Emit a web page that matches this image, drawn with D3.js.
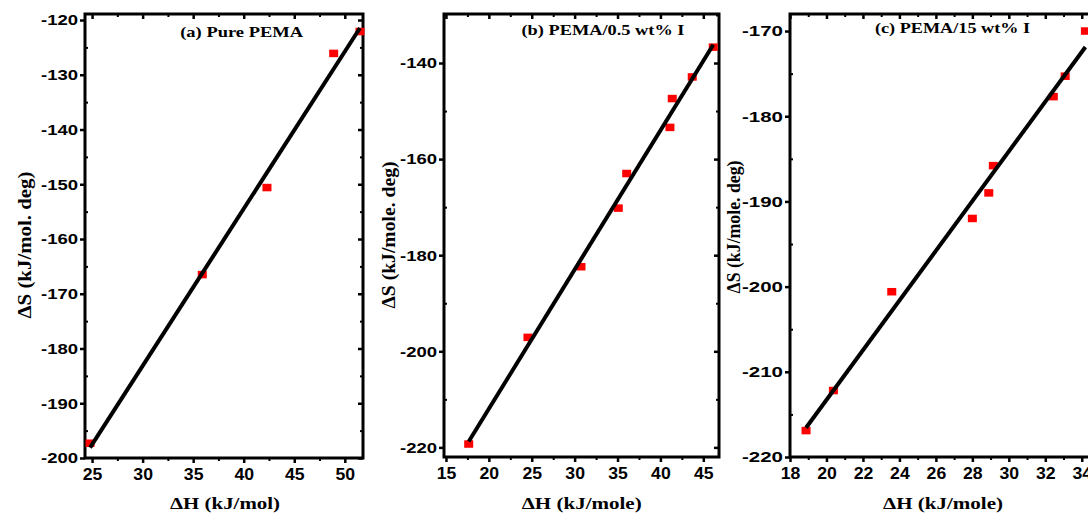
<!DOCTYPE html>
<html><head><meta charset="utf-8">
<script src="https://cdn.jsdelivr.net/npm/d3@7"></script>
<style>body{margin:0;background:#fff} svg{display:block}</style>
</head><body>
<svg id="chart" width="1088" height="515"></svg>
<script>
const titles = ["(a) Pure PEMA", "(b) PEMA/0.5 wt% I", "(c) PEMA/15 wt% I"];
const xLabels = ["\u0394H (kJ/mol)", "\u0394H (kJ/mole)", "\u0394H (kJ/mole)"];
const yLabels = ["\u0394S (kJ/mol. deg)", "\u0394S (kJ/mole. deg)", "\u0394S (kJ/mole. deg)"];
const aH = [24.8, 35.9, 42.3, 48.9, 51.5];
const aS = [-197.3, -166.5, -150.6, -126.1, -122.1];
const bH = [17.65, 24.56, 30.74, 35.09, 36.07, 41.11, 41.38, 43.71, 46.16];
const bS = [-219.3, -197.1, -182.4, -170.2, -163.0, -153.4, -147.4, -142.9, -136.7];
const cH = [18.88, 20.38, 23.58, 28.0, 28.9, 29.15, 32.44, 33.09, 34.2];
const cS = [-216.9, -212.2, -200.6, -192.0, -189.0, -185.8, -177.7, -175.3, -170.0];
const aXTicks = [25, 30, 35, 40, 45, 50];
const aYTicks = [-200, -190, -180, -170, -160, -150, -140, -130, -120];
const bXTicks = [15, 20, 25, 30, 35, 40, 45];
const bYTicks = [-220, -200, -180, -160, -140];
const cXTicks = [18, 20, 22, 24, 26, 28, 30, 32, 34];
const cYTicks = [-220, -210, -200, -190, -180, -170];

const panels = [
  {H: aH, S: aS, xd: [24.3, 51.8], xr: [85, 363], yd: [-200, -118.9], yr: [458, 14],
   xt: aXTicks, yt: aYTicks, xm: 2.5, ym: 5, title: titles[0], tx: 241.7, ty: 37, tw: 123,
   xl: xLabels[0], xlx: 225, xlw: 110, yl: yLabels[0], ylx: 31, yly: 245, ylw: 147, ytw: 37},
  {H: bH, S: bS, xd: [14.77, 46.83], xr: [444, 719], yd: [-222, -129.8], yr: [457, 14],
   xt: bXTicks, yt: bYTicks, xm: 2.5, ym: 10, title: titles[1], tx: 603, ty: 35, tw: 163,
   xl: xLabels[1], xlx: 581.7, xlw: 120, yl: yLabels[1], ylx: 395, yly: 235, ylw: 147, ytw: 37},
  {H: cH, S: cS, xd: [18, 35], xr: [790, 1100], yd: [-220, -168], yr: [457, 14],
   xt: cXTicks, yt: cYTicks, xm: 1, ym: 5, title: titles[2], tx: 952.5, ty: 33, tw: 155,
   xl: xLabels[2], xlx: 943, xlw: 120, yl: yLabels[2], ylx: 740, yly: 227, ylw: 133, ytw: 41}
];

const svg = d3.select("#chart");
const SANS = "'Liberation Sans', Arial, sans-serif";
const SERIF = "'Liberation Serif', 'Times New Roman', serif";
const fmt = d => String(d);

function minorVals(d, step, majors) {
  const lo = Math.min(d[0], d[1]), hi = Math.max(d[0], d[1]);
  return d3.range(Math.ceil(lo / step) * step, hi + 1e-9, step)
    .filter(v => !majors.some(m => Math.abs(m - v) < 1e-6));
}

function styleAxis(g, w) {
  g.select(".domain").remove();
  g.selectAll(".tick line").attr("stroke", "#000").attr("stroke-width", w);
}

panels.forEach(p => {
  const x = d3.scaleLinear().domain(p.xd).range(p.xr);
  const y = d3.scaleLinear().domain(p.yd).range(p.yr);
  const g = svg.append("g");
  const [x0, x1] = p.xr, [y1, y0] = p.yr;
  const xmin = minorVals(p.xd, p.xm, p.xt), ymin = minorVals(p.yd, p.ym, p.yt);

  // bottom axis (labels + outward major ticks)
  const gb = g.append("g").attr("transform", `translate(0,${y1})`)
    .call(d3.axisBottom(x).tickValues(p.xt).tickSize(5).tickPadding(6).tickFormat(fmt));
  styleAxis(gb, 2.5);
  gb.selectAll("text").attr("font-family", SANS).attr("font-weight", "bold")
    .attr("font-size", 16).attr("fill", "#000")
    .attr("textLength", d => String(d).length * 9.8).attr("lengthAdjust", "spacingAndGlyphs");
  const gbm = g.append("g").attr("transform", `translate(0,${y1})`)
    .call(d3.axisBottom(x).tickValues(xmin).tickSize(3).tickFormat(""));
  styleAxis(gbm, 2);

  // left axis
  const gl = g.append("g").attr("transform", `translate(${x0},0)`)
    .call(d3.axisLeft(y).tickValues(p.yt).tickSize(5).tickPadding(2).tickFormat(fmt));
  styleAxis(gl, 2.5);
  gl.selectAll("text").attr("font-family", SANS).attr("font-weight", "bold")
    .attr("font-size", 15).attr("fill", "#000")
    .attr("textLength", p.ytw).attr("lengthAdjust", "spacingAndGlyphs");
  const glm = g.append("g").attr("transform", `translate(${x0},0)`)
    .call(d3.axisLeft(y).tickValues(ymin).tickSize(-3).tickFormat(""));
  styleAxis(glm, 2);

  // top axis (inward)
  const gt = g.append("g").attr("transform", `translate(0,${y0})`)
    .call(d3.axisTop(x).tickValues(p.xt).tickSize(-5).tickFormat(""));
  styleAxis(gt, 2.5);
  const gtm = g.append("g").attr("transform", `translate(0,${y0})`)
    .call(d3.axisTop(x).tickValues(xmin).tickSize(-3).tickFormat(""));
  styleAxis(gtm, 2);

  // right axis (inward)
  const gr = g.append("g").attr("transform", `translate(${x1},0)`)
    .call(d3.axisRight(y).tickValues(p.yt).tickSize(-5).tickFormat(""));
  styleAxis(gr, 2.5);
  const grm = g.append("g").attr("transform", `translate(${x1},0)`)
    .call(d3.axisRight(y).tickValues(ymin).tickSize(-3).tickFormat(""));
  styleAxis(grm, 2);

  // frame
  g.append("rect").attr("x", x0).attr("y", y0).attr("width", x1 - x0).attr("height", y1 - y0)
    .attr("fill", "none").attr("stroke", "#000").attr("stroke-width", 3);

  // markers
  const pts = p.H.map((h, i) => ({h, s: p.S[i]}));
  g.selectAll("rect.pt").data(pts).join("rect").attr("class", "pt")
    .attr("x", d => x(d.h) - 4.5).attr("y", d => y(d.s) - 3.75)
    .attr("width", 9).attr("height", 7.5).attr("fill", "#ff0000");

  // least-squares fit line
  const mx = d3.mean(p.H), my = d3.mean(p.S);
  const sxy = d3.sum(pts, d => (d.h - mx) * (d.s - my));
  const sxx = d3.sum(pts, d => (d.h - mx) * (d.h - mx));
  const k = sxy / sxx, b0 = my - k * mx;
  const ext = d3.extent(p.H);
  g.append("line").attr("x1", x(ext[0])).attr("y1", y(k * ext[0] + b0))
    .attr("x2", x(ext[1])).attr("y2", y(k * ext[1] + b0))
    .attr("stroke", "#000").attr("stroke-width", 4);

  // title
  g.append("text").attr("x", p.tx).attr("y", p.ty).attr("text-anchor", "middle")
    .attr("font-family", SERIF).attr("font-weight", "bold").attr("font-size", 15)
    .attr("textLength", p.tw).attr("lengthAdjust", "spacingAndGlyphs").text(p.title);

  // x label
  g.append("text").attr("x", p.xlx).attr("y", 509).attr("text-anchor", "middle")
    .attr("font-family", SERIF).attr("font-weight", "bold").attr("font-size", 17)
    .attr("textLength", p.xlw).attr("lengthAdjust", "spacingAndGlyphs").text(p.xl);

  // y label
  g.append("text").attr("transform", `translate(${p.ylx},${p.yly}) rotate(-90)`)
    .attr("text-anchor", "middle")
    .attr("font-family", SERIF).attr("font-weight", "bold").attr("font-size", 18)
    .attr("textLength", p.ylw).attr("lengthAdjust", "spacingAndGlyphs").text(p.yl);
});
</script>
</body></html>
